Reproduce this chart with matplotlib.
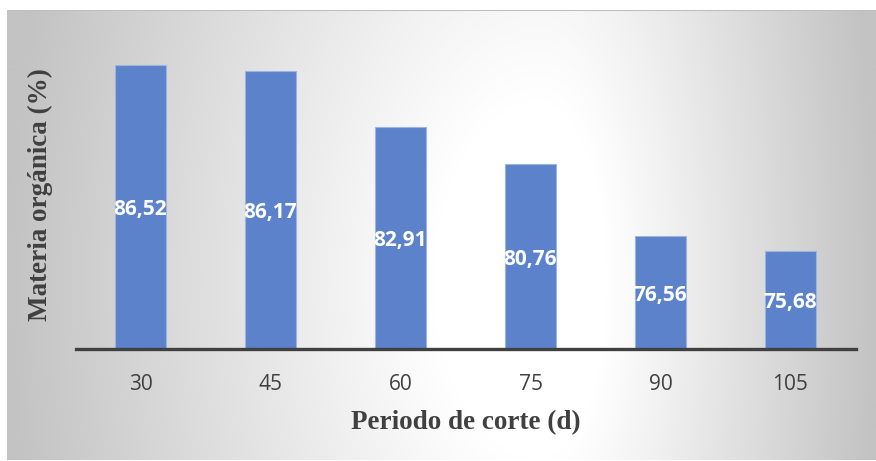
import matplotlib
matplotlib.use("Agg")
import matplotlib.pyplot as plt
import numpy as np

# Organic matter by cutting period
periods = ["30", "45", "60", "75", "90", "105"]
materia = [86.52, 86.17, 82.91, 80.76, 76.56, 75.68]

W, H = 876, 461
fig = plt.figure(figsize=(W / 100, H / 100), dpi=100)
fig.patch.set_facecolor("white")

# ── Background panel: light centre fading to grey at the sides ───────────────
px0, py0, px1, py1 = 7, 10, 876, 460
bg = fig.add_axes([px0 / W, 1 - py1 / H, (px1 - px0) / W, (py1 - py0) / H], zorder=-2)
xs = np.arange(px0, px1)
ys = np.arange(py0, py1)
X, Y = np.meshgrid(xs, ys)
cx, cy = 540, 280
sx = np.where(X < cx, cx - px0, px1 - cx)
sy = 900.0
t = np.sqrt(((X - cx) / sx) ** 2 + ((Y - cy) / sy) ** 2)
shade = 255 - 60 * np.clip((t - 0.2) / 0.8, 0, 1)
img = np.dstack([shade, shade, shade]) / 255.0
bg.imshow(img, aspect="auto", interpolation="bilinear")
bg.axhline(0, color="#bfbfbf", lw=1.5)
bg.set_axis_off()

# ── Bars ─────────────────────────────────────────────────────────────────────
ymin, ymax = 70.0, 88.7
ax = fig.add_axes([75.5 / W, 1 - 349 / H, 780 / W, (349 - 28) / H])
ax.set_facecolor("none")
x = np.arange(len(periods))
ax.bar(x, np.array(materia) - ymin, bottom=ymin, width=0.39,
       color="#5b82cb", edgecolor="#9bb4e0", linewidth=0.8, zorder=2)

for xi, v in zip(x, materia):
    ax.text(xi, (ymin + v) / 2 - 0.15, f"{v:.2f}".replace(".", ","),
            ha="center", va="center", color="white", fontsize=15,
            fontweight="bold", family="Open Sans", zorder=3)

ax.set_xlim(-0.5, len(periods) - 0.5)
ax.set_ylim(ymin, ymax)
ax.set_xticks(x)
ax.set_xticklabels(periods, fontsize=15, family="Open Sans", color="#404040")
ax.tick_params(axis="x", length=0, pad=18)
ax.set_yticks([])
for side in ["top", "right", "left"]:
    ax.spines[side].set_visible(False)
ax.spines["bottom"].set_color("#404040")
ax.spines["bottom"].set_linewidth(2.4)

ax.set_xlabel("Periodo de corte (d)", family="Liberation Serif", fontweight="bold",
              fontsize=19.5, color="#404040", labelpad=11)
fig.text(40 / W, 1 - 195 / H, "Materia orgánica (%)", rotation=90,
         ha="center", va="center", family="Liberation Serif", fontweight="bold",
         fontsize=19.5, color="#404040")

plt.savefig("out.png", dpi=100)
